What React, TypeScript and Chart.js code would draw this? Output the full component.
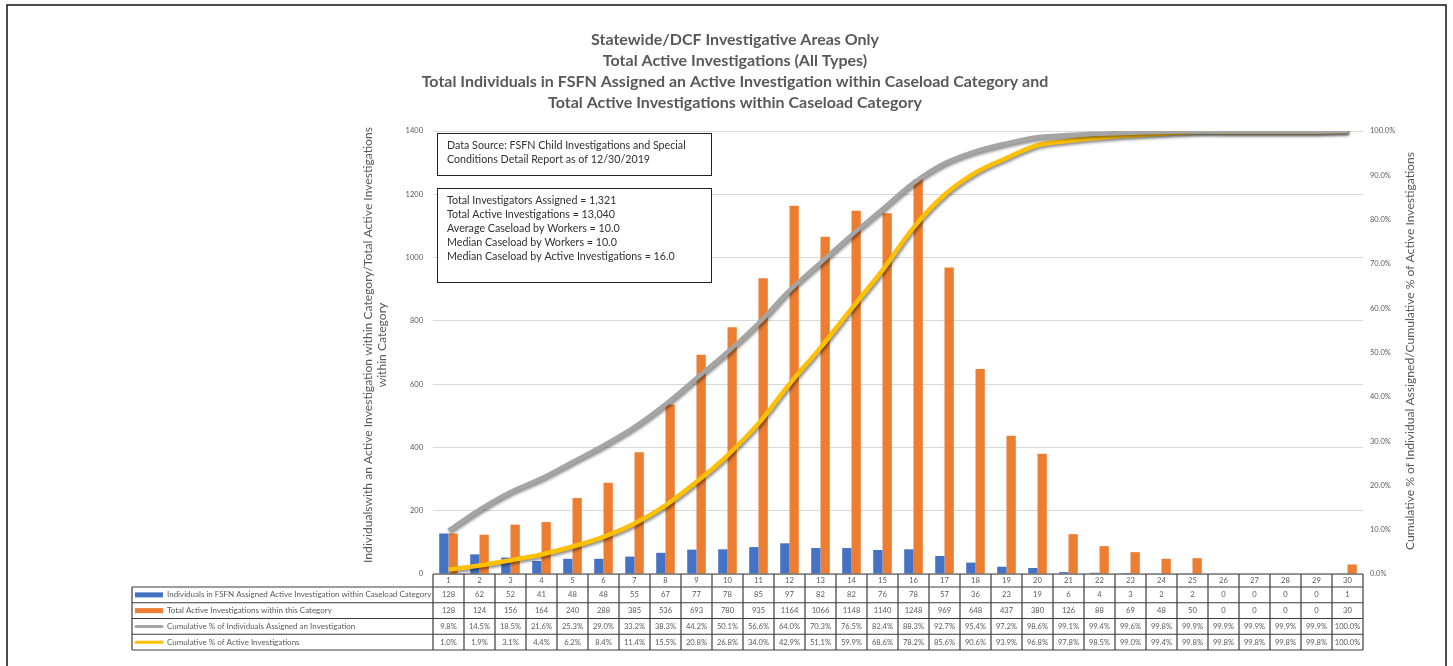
import React, { useEffect, useRef } from 'react';
import { Chart, registerables } from 'chart.js';

Chart.register(...registerables);

const FONT = 'Lato, "Open Sans", sans-serif';

const categories = ['1','2','3','4','5','6','7','8','9','10','11','12','13','14','15','16','17','18','19','20','21','22','23','24','25','26','27','28','29','30'];
const individuals = [128,62,52,41,48,48,55,67,77,78,85,97,82,82,76,78,57,36,23,19,6,4,3,2,2,0,0,0,0,1];
const activeInvestigations = [128,124,156,164,240,288,385,536,693,780,935,1164,1066,1148,1140,1248,969,648,437,380,126,88,69,48,50,0,0,0,0,30];
const cumPctIndividuals = [9.8,14.5,18.5,21.6,25.3,29.0,33.2,38.3,44.2,50.1,56.6,64.0,70.3,76.5,82.4,88.3,92.7,95.4,97.2,98.6,99.1,99.4,99.6,99.8,99.9,99.9,99.9,99.9,99.9,100.0];
const cumPctActive = [1.0,1.9,3.1,4.4,6.2,8.4,11.4,15.5,20.8,26.8,34.0,42.9,51.1,59.9,68.6,78.2,85.6,90.6,93.9,96.8,97.8,98.5,99.0,99.4,99.8,99.8,99.8,99.8,99.8,100.0];

const seriesLabels = [
  'Individuals in FSFN Assigned Active Investigation within Caseload Category',
  'Total Active Investigations within this Category',
  'Cumulative % of Individuals Assigned an Investigation',
  'Cumulative % of Active Investigations',
];
const seriesColors = ['#4472C4', '#ED7D31', '#A5A5A5', '#FFC000'];

const titleLines = [
  'Statewide/DCF Investigative Areas Only',
  'Total Active Investigations (All Types)',
  'Total Individuals in FSFN Assigned an Active Investigation within Caseload Category and',
  'Total Active Investigations within Caseload Category',
];
const sourceLines = [
  'Data Source: FSFN Child Investigations and Special',
  'Conditions Detail Report as of 12/30/2019',
];
const statsLines = [
  'Total Investigators Assigned = 1,321',
  'Total Active Investigations = 13,040',
  'Average Caseload by Workers = 10.0',
  'Median Caseload by Workers = 10.0',
  'Median Caseload by Active Investigations = 16.0',
];
const leftAxisTitle = [
  'Individualswith an Active Investigation within Category/Total Active Investigations',
  'within Category',
];
const rightAxisTitle = 'Cumulative % of Individual Assigned/Cumulative % of Active Investigations';

const pctFmt = (v: number) => v.toFixed(1) + '%';

const shadowPlugin = {
  id: 'lineShadow',
  beforeDatasetDraw(chart: any, args: any) {
    if (args.meta.type === 'line') {
      const ctx = chart.ctx;
      ctx.save();
      ctx.shadowColor = 'rgba(0,0,0,0.45)';
      ctx.shadowBlur = 3;
      ctx.shadowOffsetX = 1.5;
      ctx.shadowOffsetY = 2;
    }
  },
  afterDatasetDraw(chart: any, args: any) {
    if (args.meta.type === 'line') chart.ctx.restore();
  },
};

const extrasPlugin = {
  id: 'extras',
  afterDraw(chart: any) {
    const { ctx, chartArea: ca } = chart;
    ctx.save();

    // outer frame
    ctx.strokeStyle = '#111';
    ctx.lineWidth = 1.5;
    ctx.strokeRect(7, 5, 1439, 720);

    // title
    ctx.fillStyle = '#595959';
    ctx.font = `bold 16px ${FONT}`;
    ctx.textAlign = 'center';
    ctx.textBaseline = 'middle';
    titleLines.forEach((t, i) => ctx.fillText(t, 735, 40 + i * 21));

    // text boxes
    const drawBox = (lines: string[], x: number, y: number, w: number, h: number, firstY: number, step: number) => {
      ctx.fillStyle = '#fff';
      ctx.fillRect(x, y, w, h);
      ctx.strokeStyle = '#222';
      ctx.lineWidth = 1;
      ctx.strokeRect(x + 0.5, y + 0.5, w, h);
      ctx.fillStyle = '#303030';
      ctx.font = `10.7px ${FONT}`;
      ctx.textAlign = 'left';
      ctx.textBaseline = 'middle';
      lines.forEach((t, i) => ctx.fillText(t, x + 10, firstY + i * step));
    };
    drawBox(sourceLines, ca.left + 4, ca.top + 2, 274, 42, ca.top + 15, 14);
    drawBox(statsLines, ca.left + 4, ca.top + 57, 274, 94, ca.top + 70, 14);

    // axis titles
    ctx.fillStyle = '#595959';
    ctx.textAlign = 'center';
    ctx.textBaseline = 'middle';
    ctx.font = `12.1px ${FONT}`;
    ctx.save();
    ctx.translate(368, 345);
    ctx.rotate(-Math.PI / 2);
    leftAxisTitle.forEach((t, i) => ctx.fillText(t, 0, i * 14));
    ctx.restore();
    ctx.font = `12.1px ${FONT}`;
    ctx.save();
    ctx.translate(1410, 351);
    ctx.rotate(-Math.PI / 2);
    ctx.fillText(rightAxisTitle, 0, 0);
    ctx.restore();

    // data table
    const n = categories.length;
    const cw = (ca.right - ca.left) / n;
    const legendLeft = 132;
    const headerH = 13;
    const rowH = 15.75;
    const top0 = ca.bottom + headerH;
    const rows = [
      individuals.map((v) => String(v)),
      activeInvestigations.map((v) => String(v)),
      cumPctIndividuals.map(pctFmt),
      cumPctActive.map(pctFmt),
    ];
    const bottom = top0 + rowH * rows.length;

    ctx.strokeStyle = '#3c3c3c';
    ctx.lineWidth = 1.2;
    ctx.beginPath();
    ctx.moveTo(ca.left, ca.bottom);
    ctx.lineTo(ca.right, ca.bottom);
    for (let i = 0; i <= n; i++) {
      const xx = ca.left + i * cw;
      ctx.moveTo(xx, ca.bottom);
      ctx.lineTo(xx, bottom);
    }
    ctx.moveTo(legendLeft, top0);
    ctx.lineTo(legendLeft, bottom);
    for (let r = 0; r <= rows.length; r++) {
      const yy = top0 + r * rowH;
      ctx.moveTo(legendLeft, yy);
      ctx.lineTo(ca.right, yy);
    }
    ctx.stroke();

    ctx.fillStyle = '#595959';
    ctx.font = `7.6px ${FONT}`;
    ctx.textAlign = 'center';
    ctx.textBaseline = 'middle';
    categories.forEach((c, i) => ctx.fillText(c, ca.left + (i + 0.5) * cw, ca.bottom + headerH / 2 + 0.5));
    rows.forEach((row, r) => {
      const cy = top0 + (r + 0.5) * rowH;
      row.forEach((v, i) => ctx.fillText(v, ca.left + (i + 0.5) * cw, cy));
    });

    // legend keys
    ctx.font = `8px ${FONT}`;
    seriesLabels.forEach((lab, r) => {
      const cy = top0 + (r + 0.5) * rowH;
      if (r < 2) {
        ctx.fillStyle = seriesColors[r];
        ctx.fillRect(legendLeft + 3, cy - 2.5, 28, 5);
      } else {
        ctx.strokeStyle = seriesColors[r];
        ctx.lineWidth = 3;
        ctx.lineCap = 'round';
        ctx.beginPath();
        ctx.moveTo(legendLeft + 4, cy);
        ctx.lineTo(legendLeft + 30, cy);
        ctx.stroke();
      }
      ctx.fillStyle = '#595959';
      ctx.textAlign = 'left';
      ctx.fillText(lab, legendLeft + 35, cy);
    });

    ctx.restore();
  },
};

export default function App() {
  const ref = useRef<HTMLCanvasElement | null>(null);

  useEffect(() => {
    document.body.style.margin = '0';
    const canvas = ref.current;
    if (!canvas) return;
    const chart = new Chart(canvas, {
      type: 'bar',
      data: {
        labels: categories,
        datasets: [
          {
            type: 'line',
            label: seriesLabels[2],
            data: cumPctIndividuals,
            yAxisID: 'y1',
            borderColor: seriesColors[2],
            borderWidth: 4.5,
            pointRadius: 0,
            tension: 0.35,
            fill: false,
            order: 0,
          },
          {
            type: 'line',
            label: seriesLabels[3],
            data: cumPctActive,
            yAxisID: 'y1',
            borderColor: seriesColors[3],
            borderWidth: 4.5,
            pointRadius: 0,
            tension: 0.35,
            fill: false,
            order: 0,
          },
          {
            type: 'bar',
            label: seriesLabels[0],
            data: individuals,
            yAxisID: 'y',
            backgroundColor: seriesColors[0],
            categoryPercentage: 0.6,
            barPercentage: 1.0,
            order: 1,
          },
          {
            type: 'bar',
            label: seriesLabels[1],
            data: activeInvestigations,
            yAxisID: 'y',
            backgroundColor: seriesColors[1],
            categoryPercentage: 0.6,
            barPercentage: 1.0,
            order: 1,
          },
        ] as any,
      },
      options: {
        responsive: false,
        animation: false,
        layout: { padding: { top: 131, bottom: 92, left: 0, right: 0 } },
        plugins: {
          legend: { display: false },
          title: { display: false },
          tooltip: { enabled: false },
        },
        scales: {
          x: {
            type: 'category',
            display: false,
            offset: true,
            grid: { display: false },
          },
          y: {
            position: 'left',
            min: 0,
            max: 1400,
            ticks: {
              stepSize: 200,
              padding: 10,
              color: '#595959',
              font: { family: FONT, size: 7.5 },
              callback: (v: any) => String(v),
            },
            grid: { color: '#d9d9d9', drawTicks: false },
            border: { display: false },
            afterFit: (s: any) => { s.width = 433; },
          },
          y1: {
            position: 'right',
            min: 0,
            max: 100,
            ticks: {
              stepSize: 10,
              padding: 7,
              color: '#595959',
              font: { family: FONT, size: 7.5 },
              callback: (v: any) => pctFmt(Number(v)),
            },
            grid: { display: false, drawTicks: false },
            border: { display: false },
            afterFit: (s: any) => { s.width = 1453 - 1363; },
          },
        },
      },
      plugins: [shadowPlugin, extrasPlugin],
    });
    return () => chart.destroy();
  }, []);

  return (
    <div style={{ width: 1453, height: 666, background: '#fff' }}>
      <canvas ref={ref} width={1453} height={666} style={{ display: 'block' }} />
    </div>
  );
}
